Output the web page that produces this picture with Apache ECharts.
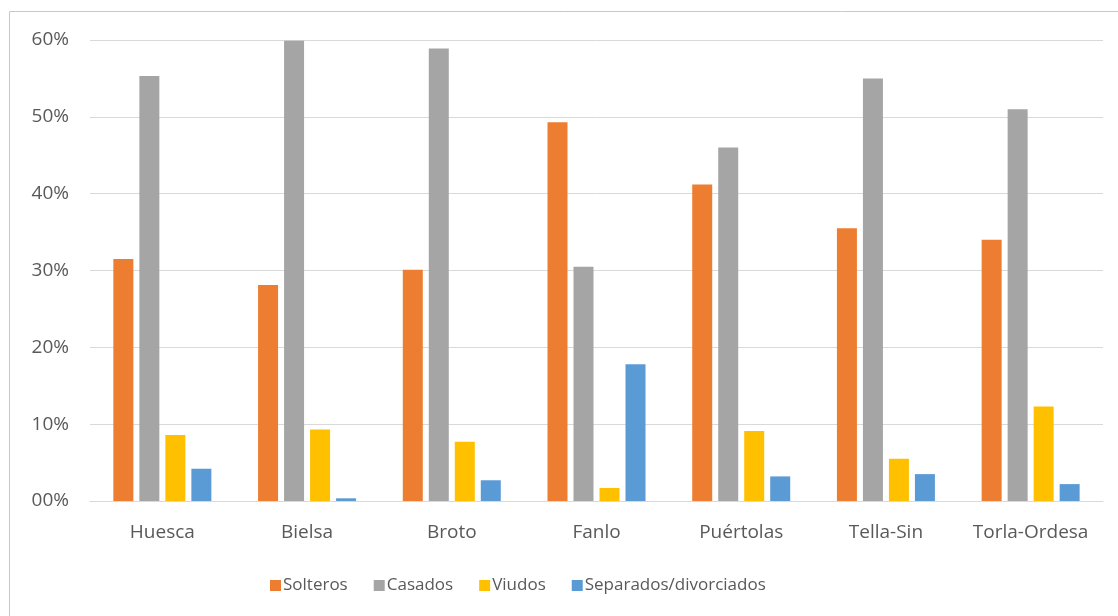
<!DOCTYPE html>
<html>
<head>
<meta charset="utf-8">
<script src="https://cdn.jsdelivr.net/npm/echarts@6/dist/echarts.min.js"></script>
<style>
html,body{margin:0;padding:0;background:#fff;}
#c{width:1118px;height:616px;}
</style>
</head>
<body>
<div id="c"></div>
<script>
const categories = ['Huesca','Bielsa','Broto','Fanlo','Puértolas','Tella-Sin','Torla-Ordesa'];
const solteros = [31.5, 28.1, 30.1, 49.3, 41.2, 35.5, 34.0];
const casados = [55.3, 59.9, 58.9, 30.5, 46.0, 55.0, 51.0];
const viudos = [8.6, 9.3, 7.7, 1.7, 9.1, 5.5, 12.3];
const separados = [4.2, 0.35, 2.7, 17.8, 3.2, 3.5, 2.2];
const yTickLabels = ['00%','10%','20%','30%','40%','50%','60%'];
const seriesNames = ['Solteros','Casados','Viudos','Separados/divorciados'];

const colors = ['#ED7D31','#A5A5A5','#FFC000','#5B9BD5'];
const font = 'Open Sans, DejaVu Sans, sans-serif';
const chart = echarts.init(document.getElementById('c'));
const data = [solteros, casados, viudos, separados];
chart.setOption({
  animation: false,
  backgroundColor: '#fff',
  color: colors,
  graphic: [{
    type: 'rect',
    shape: {x: 9.5, y: 11.5, width: 1200, height: 700},
    style: {fill: 'none', stroke: '#c8c8c8', lineWidth: 1},
    silent: true
  }],
  grid: {left: 90, right: 15, top: 40, bottom: 115},
  legend: {
    bottom: 17,
    left: 265,
    itemWidth: 11,
    itemHeight: 11,
    itemGap: 26,
    icon: 'rect',
    textStyle: {color: '#595959', fontSize: 17, fontFamily: font, padding: [0,0,0,-3]},
    data: seriesNames
  },
  xAxis: {
    type: 'category',
    data: categories,
    axisLine: {show: true, lineStyle: {color: '#d9d9d9'}},
    axisTick: {show: false},
    axisLabel: {color: '#595959', fontSize: 19, fontFamily: font, margin: 22, interval: 0, hideOverlap: false}
  },
  yAxis: {
    type: 'value',
    min: 0, max: 60, interval: 10,
    axisLine: {show: false},
    axisTick: {show: false},
    splitLine: {lineStyle: {color: '#d9d9d9'}},
    axisLabel: {
      color: '#595959', fontSize: 19, fontFamily: font, margin: 21,
      formatter: function(v){ return yTickLabels[Math.round(v/10)]; }
    }
  },
  series: seriesNames.map((n,i)=>({
    name: n,
    type: 'bar',
    data: data[i],
    barWidth: 20,
    barGap: '30%'
  }))
});
</script>
</body>
</html>
